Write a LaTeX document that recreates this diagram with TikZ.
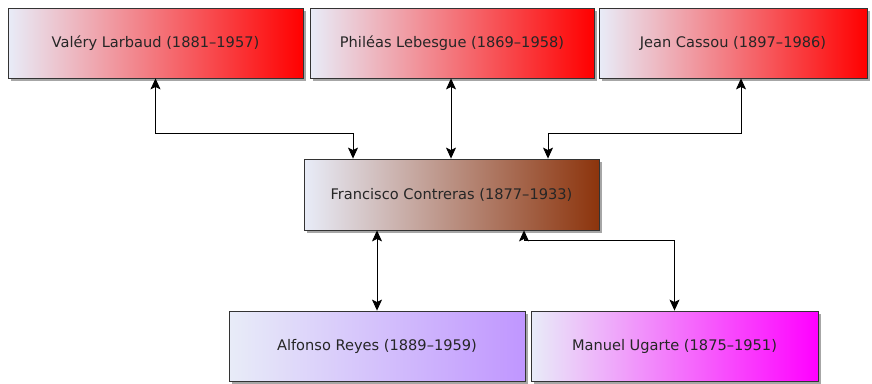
\documentclass[tikz,border=0pt]{standalone}
\usepackage{fontspec}
\setmainfont{DejaVu Sans}
\usetikzlibrary{arrows.meta,shadows,positioning}

\definecolor{paleblue}{RGB}{232,236,248}
\definecolor{rustbrown}{RGB}{140,52,12}
\definecolor{lilac}{RGB}{192,150,255}

\tikzset{
  person/.style={draw=black!80, line width=0.8pt, rectangle, minimum height=70pt,
    left color=paleblue, font=\fontsize{14.6}{17}\selectfont, text=black!85,
    drop shadow={shadow xshift=2.5pt, shadow yshift=-3pt, opacity=0.7}},
  link/.style={{Stealth[length=11pt,width=10pt,inset=2.5pt]}-{Stealth[length=11pt,width=10pt,inset=2.5pt]}, line width=0.9pt}
}

\begin{document}
\begin{tikzpicture}[x=1pt,y=-1pt]
\useasboundingbox (0,0) rectangle (872,383);

\node[person, right color=red, minimum width=295pt] (larbaud) at (155.5,43) {Valéry Larbaud (1881--1957)};
\node[person, right color=red, minimum width=284pt] (lebesgue) at (452,43) {Philéas Lebesgue (1869--1958)};
\node[person, right color=red, minimum width=268pt] (cassou) at (733,43) {Jean Cassou (1897--1986)};

\node[person, right color=rustbrown, minimum width=295pt, minimum height=71pt] (contreras) at (451.5,194.5) {Francisco Contreras (1877--1933)};

\node[person, right color=lilac, minimum width=296pt] (reyes) at (377,346) {Alfonso Reyes (1889--1959)};
\node[person, right color=magenta, minimum width=287pt] (ugarte) at (674.5,346) {Manuel Ugarte (1875--1951)};

% upper links
\draw[link] (larbaud.south) -- ++(0,55) -| ([xshift=-98.5pt]contreras.north);
\draw[link] ([xshift=-1pt]lebesgue.south) -- ([xshift=-0.5pt]contreras.north);
\draw[link] ([xshift=8pt]cassou.south) -- ++(0,55) -| ([xshift=96.5pt]contreras.north);

% lower links
\draw[link] (reyes.north) -- (reyes.north |- contreras.south);
\draw[link] (ugarte.north) -- ++(0,-70) -| ([xshift=72.5pt]contreras.south);
\end{tikzpicture}
\end{document}
